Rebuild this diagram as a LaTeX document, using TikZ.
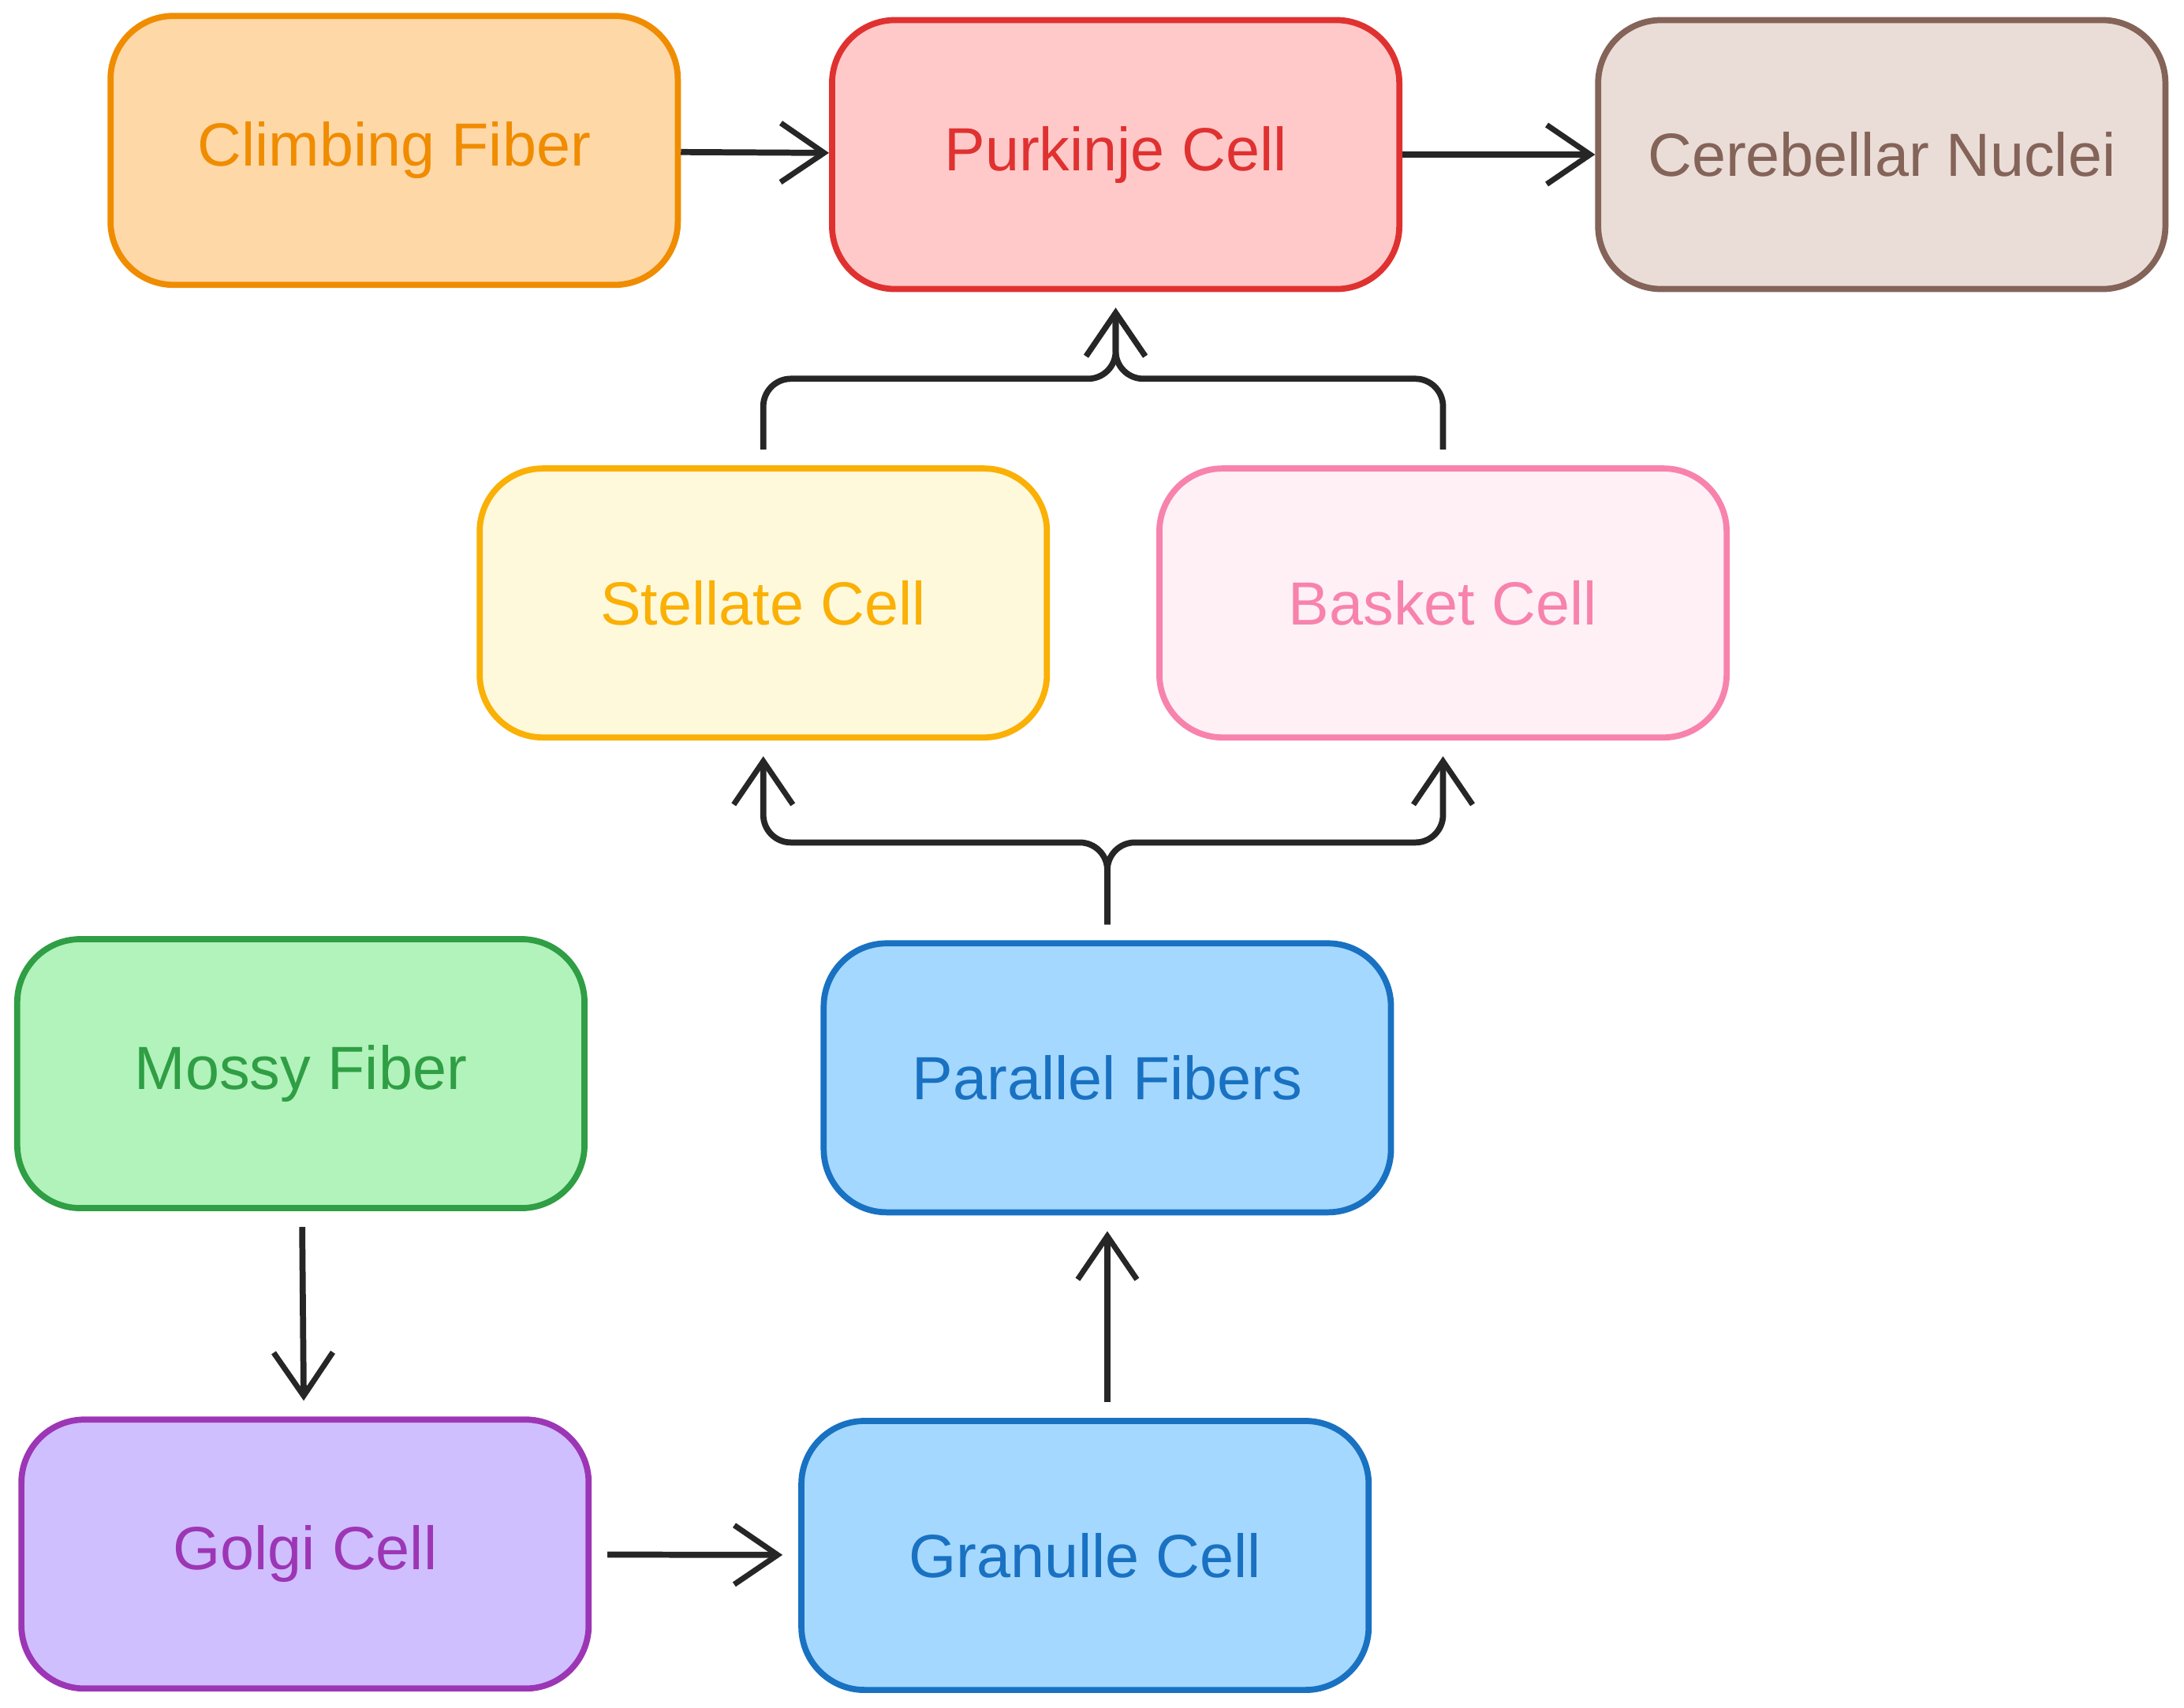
\documentclass[tikz,border=0pt]{standalone}
\usepackage{fontspec}
\setmainfont{Liberation Sans}
\usetikzlibrary{arrows.meta}
\definecolor{orangeF}{HTML}{FFD8A8}\definecolor{orangeD}{HTML}{F08C00}
\definecolor{redF}{HTML}{FFC9C9}\definecolor{redD}{HTML}{E03131}
\definecolor{brownF}{HTML}{EADDD7}\definecolor{brownD}{HTML}{846358}
\definecolor{yellowF}{HTML}{FFF9DB}\definecolor{yellowD}{HTML}{FAB005}
\definecolor{pinkF}{HTML}{FFF0F6}\definecolor{pinkD}{HTML}{F783AC}
\definecolor{greenF}{HTML}{B2F2BB}\definecolor{greenD}{HTML}{2F9E44}
\definecolor{blueF}{HTML}{A5D8FF}\definecolor{blueD}{HTML}{1971C2}
\definecolor{purpleF}{HTML}{D0BFFF}\definecolor{purpleD}{HTML}{9C36B5}
\tikzset{
  box/.style n args={2}{draw=#2, fill=#1, text=#2, line width=2.2pt,
    rounded corners=0.8cm, minimum width=7.19cm, minimum height=3.41cm,
    font=\fontsize{22}{26}\selectfont},
  link/.style={-{Straight Barb[length=0.55cm,width=0.75cm,line width=2pt]},
    line width=2.2pt, draw=black!85, rounded corners=0.35cm,
    shorten <=0.2cm, shorten >=0.2cm},
  flat/.style={shorten <=0pt, shorten >=0pt}
}
\begin{document}
\begin{tikzpicture}[x=0.01766cm, y=-0.01766cm]
\useasboundingbox (0,0) rectangle (1568,1226);

\node[box={orangeF}{orangeD}] (climb) at (283,108) {Climbing Fiber};
\node[box={redF}{redD}] (purk) at (801,111) {Purkinje Cell};
\node[box={brownF}{brownD}] (nuclei) at (1351,111) {Cerebellar Nuclei};
\node[box={yellowF}{yellowD}] (stel) at (548,433) {Stellate Cell};
\node[box={pinkF}{pinkD}] (bask) at (1036,433) {Basket Cell};
\node[box={greenF}{greenD}] (mossy) at (216,771) {Mossy Fiber};
\node[box={blueF}{blueD}] (par) at (795,774) {Parallel Fibers};
\node[box={purpleF}{purpleD}] (golgi) at (219,1116) {Golgi Cell};
\node[box={blueF}{blueD}] (gran) at (779,1117) {Granulle Cell};

\coordinate (join) at (801,272);
\coordinate (split) at (795,605);

\draw[link,flat] (climb) -- (purk);
\draw[link,flat] (purk) -- (nuclei);
\draw[link] (stel.north) |- (join) -- (purk.south);
\draw[link] (bask.north) |- (join) -- (purk.south);
\draw[link] (par.north) -- (split) -| (stel.south);
\draw[link] (par.north) -- (split) -| (bask.south);
\draw[link] (mossy) -- (golgi);
\draw[link] (golgi) -- (gran);
\draw[link] (gran.north -| par.south) -- (par.south);

\end{tikzpicture}
\end{document}
